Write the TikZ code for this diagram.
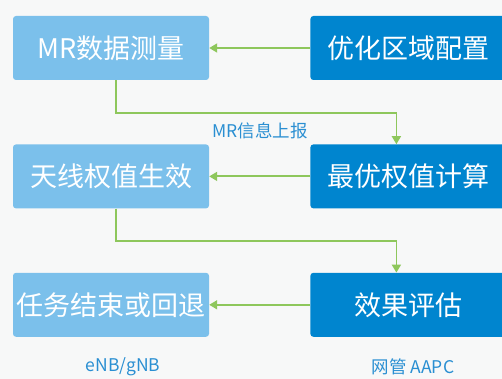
\documentclass[tikz,border=0pt]{standalone}
\usepackage{fontspec}
\setmainfont{Noto Sans CJK SC}
\usetikzlibrary{positioning, arrows.meta}

\definecolor{bgcol}{HTML}{F7F8F8}
\definecolor{lightbox}{HTML}{7BC0EB}
\definecolor{darkbox}{HTML}{0085CF}
\definecolor{flowgreen}{HTML}{8EC75C}
\definecolor{labelblue}{HTML}{2A8FD2}

\begin{document}
\begin{tikzpicture}[x=1pt, y=-1pt,
  cell/.style={rectangle, rounded corners=3pt, text=white, align=center, minimum width=196pt, minimum height=64pt, inner sep=0pt, font=\fontsize{27}{30}\selectfont},
  nbcell/.style={cell, fill=lightbox},
  mgcell/.style={cell, fill=darkbox},
  flow/.style={-{Triangle[length=8pt,width=9pt]}, draw=flowgreen, line width=1.8pt},
  note/.style={text=labelblue, font=\fontsize{17.5}{20}\selectfont}]

\useasboundingbox[fill=bgcol] (0,0) rectangle (502,379);

\node[nbcell] at (111,48) (mr) {MR数据测量};
\node[mgcell, right = 101pt of mr] (cfg) {优化区域配置};

\node[nbcell, below = 64pt of mr] (eff) {天线权值生效};
\node[mgcell, right = 101pt of eff] (calc) {最优权值计算};

\node[nbcell, below = 64pt of eff] (end) {任务结束或回退};
\node[mgcell, right = 101pt of end] (eval) {效果评估};

\draw[flow] (cfg) -- (mr);
\draw[flow] (calc) -- (eff);
\draw[flow] (eval) -- (end);

\draw[flow] ([xshift=5pt]mr.south) -- ++(0,33) -| ([xshift=-12pt]calc.north);
\draw[flow] ([xshift=5pt]eff.south) -- ++(0,32) -| ([xshift=-12pt]eval.north);

\node[note] at (260,131) (rep) {MR信息上报};

\node[note] at (123,367) (nb) {eNB/gNB};
\node[note] at (413,367) (nms) {网管 AAPC};
\end{tikzpicture}
\end{document}
